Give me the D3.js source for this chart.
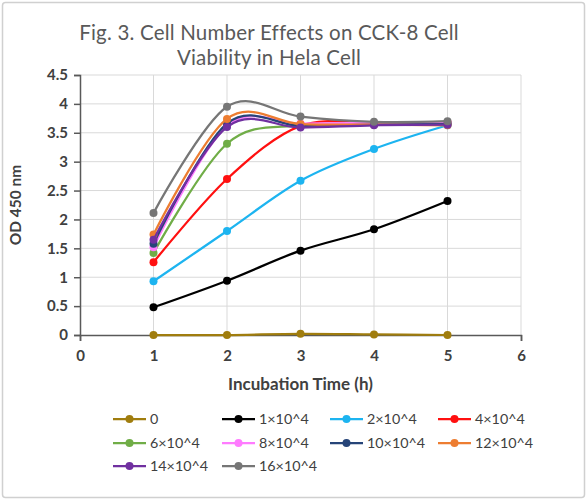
<!DOCTYPE html>
<html><head><meta charset="utf-8">
<script src="https://cdn.jsdelivr.net/npm/d3@7"></script>
<style>
html,body{margin:0;padding:0;background:#fff;}
svg{display:block;font-family:Lato,"Open Sans",sans-serif;}
</style></head>
<body><svg id="chart" width="586" height="500"></svg>
<script>
const hours = [1, 2, 3, 4, 5];
const seriesNames = ["0","1×10^4","2×10^4","4×10^4","6×10^4","8×10^4","10×10^4","12×10^4","14×10^4","16×10^4"];
const seriesColors = ["#A07D0E","#000000","#1DB4F0","#FF1010","#70AD47","#FF7BFF","#264478","#ED7D31","#7030A0","#767676"];
const s0   = [0, 0, 0.02, 0.01, 0];
const s1   = [0.48, 0.94, 1.46, 1.83, 2.32];
const s2   = [0.93, 1.80, 2.67, 3.22, 3.63];
const s4   = [1.26, 2.70, 3.62, 3.66, 3.68];
const s6   = [1.42, 3.31, 3.63, 3.65, 3.66];
const s8   = [1.52, 3.62, 3.66, 3.67, 3.68];
const s10  = [1.58, 3.66, 3.62, 3.64, 3.65];
const s12  = [1.74, 3.74, 3.65, 3.64, 3.63];
const s14  = [1.65, 3.60, 3.59, 3.63, 3.64];
const s16  = [2.11, 3.95, 3.78, 3.69, 3.70];
const seriesValues = [s0, s1, s2, s4, s6, s8, s10, s12, s14, s16];
const xTicks = [0, 1, 2, 3, 4, 5, 6];
const yTicks = [0, 0.5, 1, 1.5, 2, 2.5, 3, 3.5, 4, 4.5];
const titleLines = ["Fig. 3. Cell Number Effects on CCK-8 Cell", "Viability in Hela Cell"];
const xTitle = "Incubation Time (h)";
const yTitle = "OD 450 nm";

const svg = d3.select("#chart");
const W = 586, H = 500;
const m = {left: 80, right: 65, top: 75, bottom: 165};
const x = d3.scaleLinear().domain([0, 6]).range([m.left, W - m.right]);
const y = d3.scaleLinear().domain([0, 4.5]).range([H - m.bottom, m.top]);

// outer border
svg.append("rect").attr("x", 2.5).attr("y", 2.5).attr("width", W - 4).attr("height", H - 5)
  .attr("rx", 3).attr("fill", "#fff").attr("stroke", "#d0d0d0").attr("stroke-width", 1.5);

// title
const title = svg.append("text").attr("text-anchor", "middle").attr("fill", "#595959")
  .style("font-size", "20.5px").style("letter-spacing", "0.2px");
titleLines.forEach((t, i) => {
  title.append("tspan").attr("x", 269).attr("y", 40 + i * 25).text(t);
});

// grid
svg.append("g").selectAll("line").data(yTicks.filter(d => d > 0)).join("line")
  .attr("x1", x(0)).attr("x2", x(6)).attr("y1", d => y(d)).attr("y2", d => y(d))
  .attr("stroke", "#d9d9d9").attr("stroke-width", 1);
svg.append("g").selectAll("line").data(xTicks.filter(d => d > 0)).join("line")
  .attr("x1", d => x(d)).attr("x2", d => x(d)).attr("y1", y(0)).attr("y2", y(4.5))
  .attr("stroke", "#d9d9d9").attr("stroke-width", 1);

// axes
const yAxis = svg.append("g").attr("transform", `translate(${x(0)},0)`)
  .call(d3.axisLeft(y).tickValues(yTicks).tickFormat(d => d).tickSizeOuter(0).tickSize(6).tickPadding(6));
const xAxis = svg.append("g").attr("transform", `translate(0,${y(0)})`)
  .call(d3.axisBottom(x).tickValues(xTicks).tickFormat(d => d).tickSizeOuter(0).tickSize(6).tickPadding(9));
[yAxis, xAxis].forEach(a => {
  a.select(".domain").attr("stroke", "#595959").attr("stroke-width", 1.5);
  a.selectAll(".tick line").attr("stroke", "#595959").attr("stroke-width", 1.5);
  a.selectAll(".tick text").attr("fill", "#404040").style("font-size", "15px").style("font-weight", "bold")
    .style("font-family", "Lato,'Open Sans',sans-serif");
});
xAxis.selectAll(".tick line").attr("display", d => (d === 0 || d === 6) ? null : "none");

// axis titles
svg.append("text").attr("x", x(3)).attr("y", 390).attr("text-anchor", "middle")
  .attr("fill", "#404040").style("font-size", "17px").style("font-weight", "bold").text(xTitle);
svg.append("text").attr("transform", `translate(21,${(y(0) + y(4.5)) / 2}) rotate(-90)`)
  .attr("text-anchor", "middle").attr("fill", "#404040").style("font-size", "15.5px")
  .style("font-weight", "bold").text(yTitle);

// lines
const line = d3.line().x((d, i) => x(hours[i])).y(d => y(d)).curve(d3.curveCardinal.tension(0));
const plot = svg.append("g");
seriesValues.forEach((vals, si) => {
  const g = plot.append("g");
  g.append("path").datum(vals).attr("d", line).attr("fill", "none")
    .attr("stroke", seriesColors[si]).attr("stroke-width", 2.25);
  g.selectAll("circle").data(vals).join("circle")
    .attr("cx", (d, i) => x(hours[i])).attr("cy", d => y(d)).attr("r", 4)
    .attr("fill", seriesColors[si]);
});

// legend
const colX = [113, 222, 330, 438];
const rowY = [419, 443, 466];
const leg = svg.append("g");
seriesNames.forEach((name, i) => {
  const cx = colX[i % 4], cy = rowY[Math.floor(i / 4)];
  const g = leg.append("g").attr("transform", `translate(${cx},${cy})`);
  g.append("line").attr("x1", 0).attr("x2", 33).attr("y1", 0).attr("y2", 0)
    .attr("stroke", seriesColors[i]).attr("stroke-width", 2.25);
  g.append("circle").attr("cx", 16.5).attr("cy", 0).attr("r", 4).attr("fill", seriesColors[i]);
  g.append("text").attr("x", 37).attr("y", 0).attr("dy", "0.35em").attr("fill", "#404040")
    .style("font-size", "14.3px").text(name);
});
</script></body></html>
